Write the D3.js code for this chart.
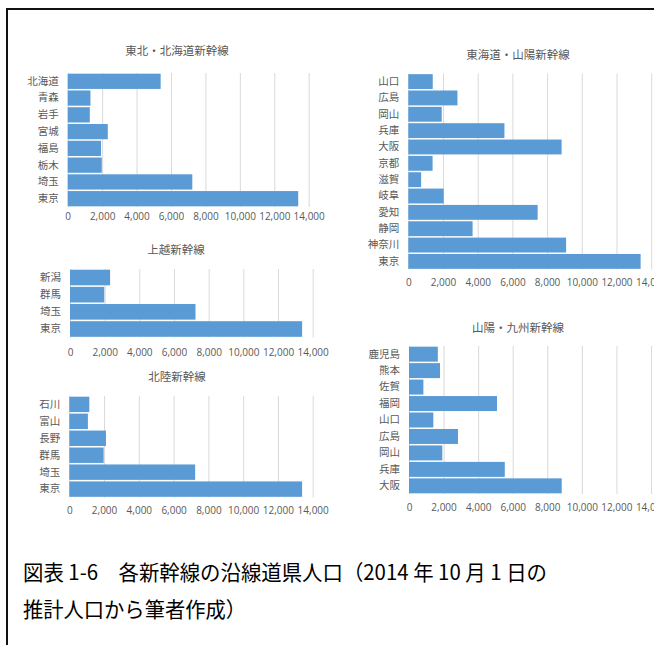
<!DOCTYPE html>
<html>
<head>
<meta charset="utf-8">
<script src="https://cdn.jsdelivr.net/npm/d3@7"></script>
<style>
  html, body { margin: 0; padding: 0; background: #fff; }
  svg { display: block; }
</style>
</head>
<body>
<svg id="fig" width="654" height="645"></svg>
<script>
// Prefectural population along each Shinkansen line (thousand people)
const tohokuTitle = "東北・北海道新幹線";
const tohokuCategories = ["北海道", "青森", "岩手", "宮城", "福島", "栃木", "埼玉", "東京"];
const tohokuValues = [5400, 1321, 1284, 2328, 1935, 1980, 7239, 13390];

const joetsuTitle = "上越新幹線";
const joetsuCategories = ["新潟", "群馬", "埼玉", "東京"];
const joetsuValues = [2313, 1976, 7239, 13390];

const hokurikuTitle = "北陸新幹線";
const hokurikuCategories = ["石川", "富山", "長野", "群馬", "埼玉", "東京"];
const hokurikuValues = [1151, 1070, 2109, 1976, 7239, 13390];

const tokaidoTitle = "東海道・山陽新幹線";
const tokaidoCategories = ["山口", "広島", "岡山", "兵庫", "大阪", "京都", "滋賀", "岐阜", "愛知", "静岡", "神奈川", "東京"];
const tokaidoValues = [1408, 2833, 1927, 5541, 8836, 1400, 740, 2041, 7455, 3705, 9096, 13390];

const kyushuTitle = "山陽・九州新幹線";
const kyushuCategories = ["鹿児島", "熊本", "佐賀", "福岡", "山口", "広島", "岡山", "兵庫", "大阪"];
const kyushuValues = [1668, 1794, 832, 5091, 1408, 2833, 1927, 5541, 8836];

const xTickValues = [0, 2000, 4000, 6000, 8000, 10000, 12000, 14000];
const xMax = 14000;

const captionLine1 = "図表 1-6　各新幹線の沿線道県人口（2014 年 10 月 1 日の";
const captionLine2 = "推計人口から筆者作成）";

const svg = d3.select("#fig");
const barColor = "#5B9BD5";
const gridColor = "#D9D9D9";
const textColor = "#595959";
const jpFont = "'Noto Sans CJK JP', 'Noto Sans', sans-serif";
const numFont = "'Open Sans', 'Liberation Sans', sans-serif";

// Outer frame (left and top edges visible)
svg.append("path")
  .attr("d", "M7,660V9H660")
  .attr("fill", "none")
  .attr("stroke", "#111")
  .attr("stroke-width", 2);

// One horizontal bar panel
function drawPanel(cfg) {
  const g = svg.append("g");
  const x = d3.scaleLinear().domain([0, xMax]).range([cfg.x0, cfg.x1]);
  const y = d3.scaleBand().domain(cfg.categories).range([cfg.y0, cfg.y1])
    .paddingInner(0.09).paddingOuter(0.04);

  // vertical gridlines
  g.append("g").selectAll("line").data(xTickValues).join("line")
    .attr("x1", d => x(d) + 0.5).attr("x2", d => x(d) + 0.5)
    .attr("y1", cfg.y0).attr("y2", cfg.y1)
    .attr("stroke", gridColor).attr("stroke-width", 1);

  // bars
  g.append("g").selectAll("rect").data(cfg.values).join("rect")
    .attr("x", x(0))
    .attr("y", (d, i) => y(cfg.categories[i]))
    .attr("width", d => x(d) - x(0))
    .attr("height", y.bandwidth())
    .attr("fill", barColor);

  // category axis
  const yAxis = g.append("g")
    .attr("transform", `translate(${x(0) - 9},0)`)
    .call(d3.axisLeft(y).tickSize(0).tickPadding(0));
  yAxis.select(".domain").remove();
  yAxis.selectAll("text")
    .attr("font-family", jpFont).attr("font-size", 10.5)
    .attr("fill", textColor);

  // value axis labels
  const xAxis = g.append("g")
    .attr("transform", `translate(0,${cfg.tickY})`)
    .call(d3.axisBottom(x).tickValues(xTickValues).tickSize(0).tickPadding(0)
      .tickFormat(d3.format(",")));
  xAxis.select(".domain").remove();
  xAxis.selectAll("text")
    .attr("dy", "0.35em")
    .attr("font-family", numFont).attr("font-size", 10)
    .attr("fill", textColor);

  // title
  g.append("text")
    .attr("x", cfg.titleX).attr("y", cfg.titleY)
    .attr("dy", "0.35em")
    .attr("text-anchor", "middle")
    .attr("font-family", jpFont).attr("font-size", 11.5)
    .attr("fill", textColor)
    .text(cfg.title);
}

drawPanel({ title: tohokuTitle, categories: tohokuCategories, values: tohokuValues,
  x0: 67.7, x1: 308.7, y0: 73, y1: 207, tickY: 216.5, titleX: 177, titleY: 51 });
drawPanel({ title: joetsuTitle, categories: joetsuCategories, values: joetsuValues,
  x0: 70, x1: 312.7, y0: 269, y1: 337.5, tickY: 352, titleX: 176, titleY: 250 });
drawPanel({ title: hokurikuTitle, categories: hokurikuCategories, values: hokurikuValues,
  x0: 69.3, x1: 312.7, y0: 396, y1: 497.5, tickY: 510, titleX: 177, titleY: 377 });
drawPanel({ title: tokaidoTitle, categories: tokaidoCategories, values: tokaidoValues,
  x0: 408.3, x1: 651.2, y0: 73.5, y1: 269.5, tickY: 282.7, titleX: 518, titleY: 55 });
drawPanel({ title: kyushuTitle, categories: kyushuCategories, values: kyushuValues,
  x0: 409, x1: 651, y0: 346, y1: 494, tickY: 507, titleX: 518, titleY: 328 });

// Caption
svg.append("text")
  .attr("x", 23).attr("y", 580)
  .attr("font-family", jpFont).attr("font-size", 21)
  .attr("fill", "#000")
  .attr("textLength", 524).attr("lengthAdjust", "spacingAndGlyphs")
  .text(captionLine1);
svg.append("text")
  .attr("x", 23).attr("y", 616.5)
  .attr("font-family", jpFont).attr("font-size", 21)
  .attr("fill", "#000")
  .attr("textLength", 223).attr("lengthAdjust", "spacingAndGlyphs")
  .text(captionLine2);
</script>
</body>
</html>
